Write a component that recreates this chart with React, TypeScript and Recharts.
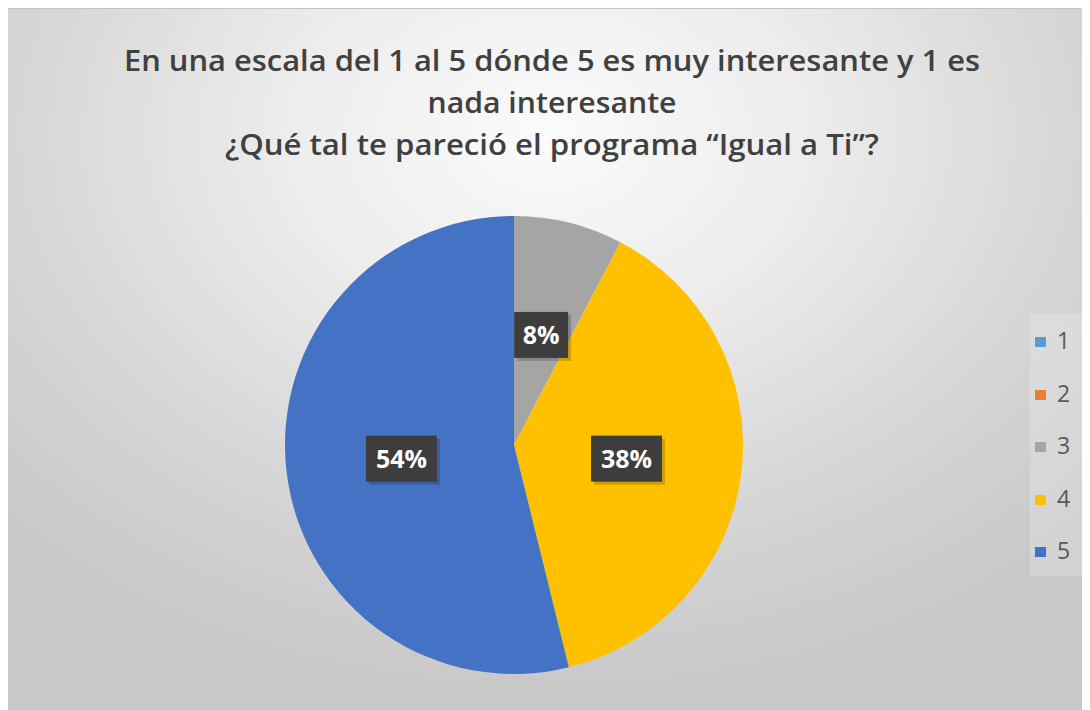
import React from 'react'
import { PieChart, Pie, Cell, Legend } from 'recharts'

// scale 1..5, number of answers (13 respondents)
const categories = ['1', '2', '3', '4', '5']
const answers = [0, 0, 1, 5, 7]
const colors = ['#5B9BD5', '#ED7D31', '#A5A5A5', '#FFC000', '#4472C4']

const titleLines = [
  'En una escala del 1 al 5 dónde 5 es muy interesante y 1 es',
  'nada interesante',
  '¿Qué tal te pareció el programa “Igual a Ti”?',
]
// measured widths of the title lines
const titleWidths = [856, 249, 654]

const data = categories.map((name, i) => ({ name, value: answers[i] }))

const W = 1084
const H = 702
const RAD = Math.PI / 180
const font = '"Open Sans", sans-serif'

const renderLabel = (props: any) => {
  const { cx, cy, midAngle, outerRadius, percent } = props
  if (!percent) return null
  const r = outerRadius * 0.495
  const x = cx + r * Math.cos(-midAngle * RAD)
  const y = cy + r * Math.sin(-midAngle * RAD)
  const text = Math.round(percent * 100) + '%'
  const w = 20 + 17 * text.length
  const h = 46
  return (
    <g>
      <rect x={x - w / 2 + 3} y={y - h / 2 + 3} width={w} height={h} fill="#000" opacity={0.18} />
      <rect x={x - w / 2} y={y - h / 2} width={w} height={h} fill="#3d3d3d" />
      <text
        x={x}
        y={y + 9}
        fill="#fff"
        textAnchor="middle"
        style={{ fontFamily: font, fontWeight: 700, fontSize: 25 }}
      >
        {text}
      </text>
    </g>
  )
}

const renderLegend = () => (
  <div
    style={{
      width: 53,
      height: 262,
      background: 'rgba(255,255,255,0.2)',
      position: 'relative',
    }}
  >
    {categories.map((c, i) => (
      <div key={c}>
        <span
          style={{
            position: 'absolute',
            left: 5,
            top: 23 + i * 52.5,
            width: 11,
            height: 10,
            background: colors[i],
          }}
        />
        <span
          style={{
            position: 'absolute',
            left: 27,
            top: 10 + i * 52.5,
            fontFamily: font,
            fontSize: 23,
            lineHeight: '32px',
            color: '#595959',
          }}
        >
          {c}
        </span>
      </div>
    ))}
  </div>
)

export default function App() {
  return (
    <div
      style={{
        position: 'relative',
        marginLeft: -2,
        width: W,
        height: H,
        background:
          'radial-gradient(ellipse 70% 80% at 50% 18%, #fbfbfb 0%, #ececec 35%, #d6d6d6 70%, #c8c8c8 100%)',
        borderTop: '1px solid #c4c4c4',
        boxSizing: 'border-box',
      }}
    >
      <svg width={W} height={200} style={{ position: 'absolute', left: 0, top: 0 }}>
        {titleLines.map((t, i) => (
          <text
            key={t}
            x={546}
            y={62 + i * 42}
            textAnchor="middle"
            textLength={titleWidths[i]}
            lengthAdjust="spacingAndGlyphs"
            fill="#404040"
            style={{ fontFamily: font, fontWeight: 600, fontSize: 29 }}
          >
            {t}
          </text>
        ))}
      </svg>
      <PieChart
        width={W}
        height={H}
        margin={{ top: 0, right: 0, bottom: 0, left: 0 }}
        style={{ position: 'absolute', left: 0, top: 0 }}
      >
        <Pie
          data={data}
          dataKey="value"
          nameKey="name"
          cx={508}
          cy={436}
          outerRadius={229}
          startAngle={90}
          endAngle={-270}
          stroke="none"
          label={renderLabel}
          labelLine={false}
          isAnimationActive={false}
        >
          {data.map((d, i) => (
            <Cell key={d.name} fill={colors[i]} />
          ))}
        </Pie>
        <Legend
          content={renderLegend}
          wrapperStyle={{ left: 1024, top: 305, width: 53, height: 262 }}
        />
      </PieChart>
    </div>
  )
}
